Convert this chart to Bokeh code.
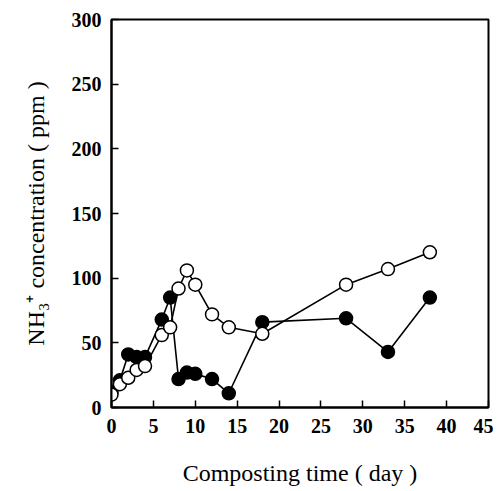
from bokeh.plotting import figure
from bokeh.models import ColumnDataSource, FixedTicker, Range1d
from bokeh.embed import file_html
from bokeh.resources import INLINE

# Filled circles series
filled_day = [0, 1, 2, 3, 4, 6, 7, 8, 9, 10, 12, 14, 18, 28, 33, 38]
filled_nh = [12, 21, 41, 39, 39, 68, 85, 22, 27, 26, 22, 11, 66, 69, 43, 85]

# Open circles series
open_day = [0, 1, 2, 3, 4, 6, 7, 8, 9, 10, 12, 14, 18, 28, 33, 38]
open_nh = [10, 18, 23, 29, 32, 56, 62, 92, 106, 95, 72, 62, 57, 95, 107, 120]

x_ticks = [0, 5, 10, 15, 20, 25, 30, 35, 40, 45]
y_ticks = [0, 50, 100, 150, 200, 250, 300]

FONT = "Liberation Serif"

p = figure(width=493, height=491, output_backend="svg", toolbar_location=None,
           x_range=Range1d(0, 45), y_range=Range1d(0, 300),
           min_border_left=111, min_border_right=5, min_border_top=19, min_border_bottom=84)

p.grid.visible = False
p.background_fill_color = "white"
p.border_fill_color = "white"
p.outline_line_color = "black"
p.outline_line_width = 2

for ax in (p.xaxis[0], p.yaxis[0]):
    ax.axis_line_color = "black"
    ax.axis_line_width = 2
    ax.major_tick_in = 7
    ax.major_tick_out = 0
    ax.major_tick_line_width = 1.5
    ax.minor_tick_line_color = None
    ax.major_label_text_font = FONT
    ax.major_label_text_font_size = "20px"
    ax.major_label_text_font_style = "bold"
    ax.major_label_text_color = "black"
    ax.axis_label_text_font = FONT
    ax.axis_label_text_font_size = "24px"
    ax.axis_label_text_font_style = "normal"
    ax.axis_label_text_color = "black"

p.xaxis.ticker = FixedTicker(ticks=x_ticks)
p.yaxis.ticker = FixedTicker(ticks=y_ticks)
p.xaxis.major_label_standoff = 11
p.yaxis.major_label_standoff = 10
p.xaxis.axis_label = "Composting time ( day )"
p.yaxis.axis_label = "NH\u2083\u207a concentration ( ppm )"
p.xaxis.axis_label_standoff = 24
p.yaxis.axis_label_standoff = 20

fsrc = ColumnDataSource(dict(x=filled_day, y=filled_nh))
osrc = ColumnDataSource(dict(x=open_day, y=open_nh))

p.line("x", "y", source=fsrc, line_color="black", line_width=1.6)
p.scatter("x", "y", source=fsrc, size=13, fill_color="black", line_color="black", line_width=1.5)
p.line("x", "y", source=osrc, line_color="black", line_width=1.6)
p.scatter("x", "y", source=osrc, size=13, fill_color="white", line_color="black", line_width=1.5)

open("out.html", "w").write(file_html(p, INLINE))
